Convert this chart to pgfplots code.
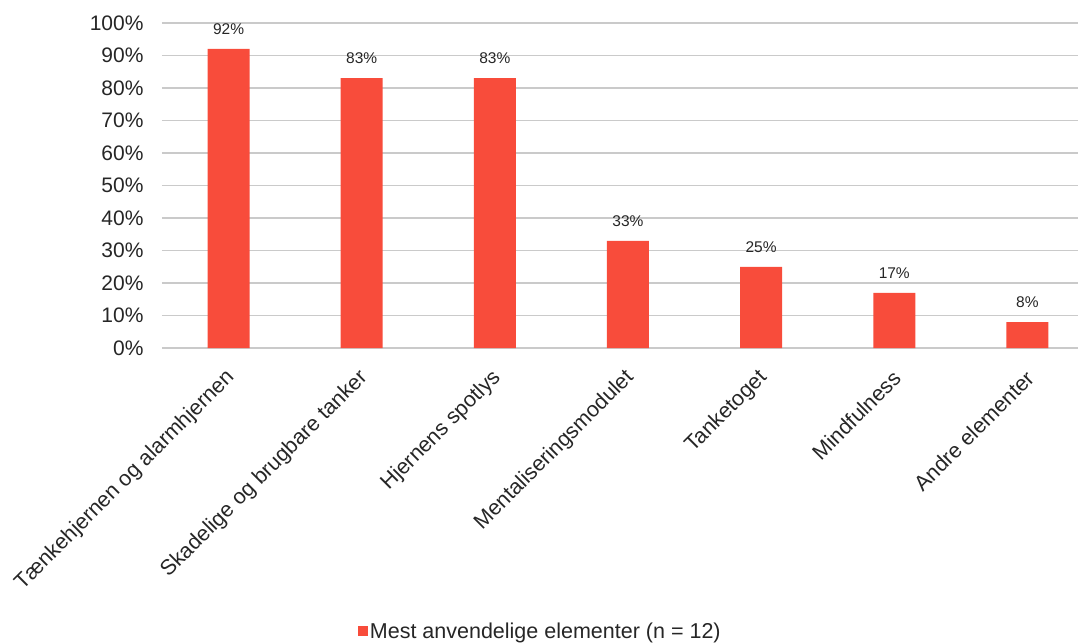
\documentclass[border=0pt]{standalone}
\usepackage{pgfplots}
\pgfplotsset{compat=1.18}
\usepackage{fontspec}
\setmainfont{Liberation Sans}
\definecolor{barcol}{HTML}{F84C3B}
\definecolor{gridcol}{HTML}{CACACA}
\definecolor{txt}{HTML}{262626}
\begin{document}
\begin{tikzpicture}
\begin{axis}[
  at={(0pt,0pt)}, anchor=south west,
  scale only axis, width=916pt, height=325pt,
  xmin=-0.5, xmax=6.38, ymin=0, ymax=100,
  axis line style={draw=none},
  ytick={0,10,...,100},
  yticklabels={0\%,10\%,20\%,30\%,40\%,50\%,60\%,70\%,80\%,90\%,100\%},
  xtick={0,...,6},
  xticklabels={Tænkehjernen og alarmhjernen,Skadelige og brugbare tanker,Hjernens spotlys,Mentaliseringsmodulet,Tanketoget,Mindfulness,Andre elementer},
  major tick length=0pt,
  ymajorgrids, grid style={gridcol, line width=1.3pt},
  yticklabel style={font=\fontsize{21}{21}\selectfont, text=txt, xshift=-15pt},
  xticklabel style={font=\fontsize{21.5}{21.5}\selectfont, text=txt, xshift=5pt, yshift=-24pt, rotate=45, anchor=east},
  /pgf/number format/assume math mode=true,
  ybar, bar width=42pt,
  nodes near coords={\pgfmathprintnumber{\pgfplotspointmeta}\%},
  every node near coord/.append style={font=\fontsize{15.5}{15.5}\selectfont, text=txt, yshift=11pt},
  legend style={at={(axis description cs:0.413,-0.871)}, anchor=center, draw=none, font=\fontsize{21.5}{21.5}\selectfont, text=txt, fill=none},
  legend image code/.code={\fill[barcol] (0pt,-5pt) rectangle (10pt,5pt);},
  clip=false,
]
\addplot[fill=barcol, draw=none] coordinates {(0,92) (1,83) (2,83) (3,33) (4,25) (5,17) (6,8)};
\addlegendentry{Mest anvendelige elementer (n = 12)}
\end{axis}
\pgfresetboundingbox
\path (-162pt,-294pt) rectangle (916pt,348pt);
\end{tikzpicture}
\end{document}
